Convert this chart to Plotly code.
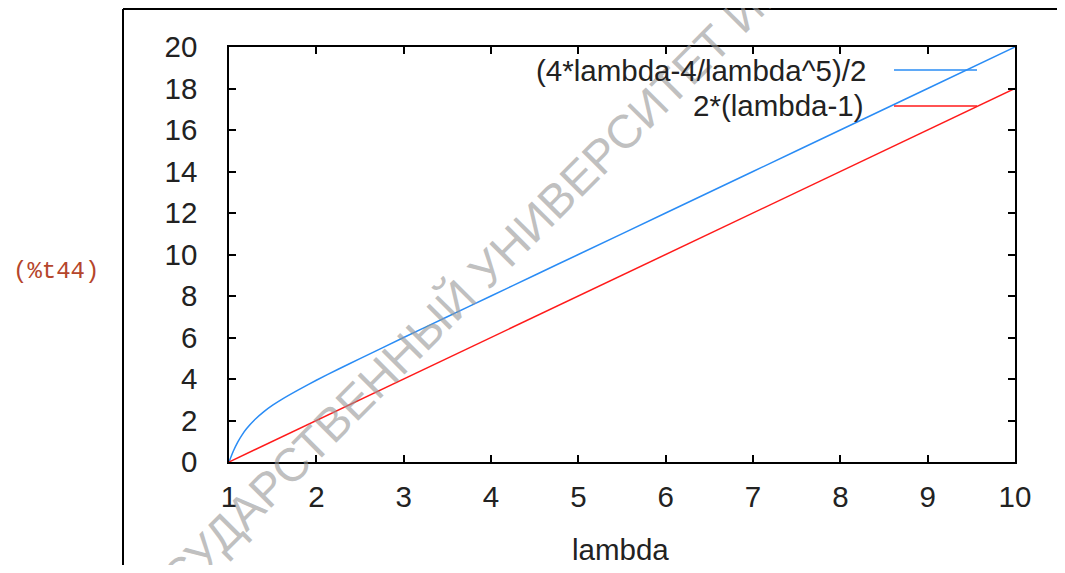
import plotly.graph_objects as go

# ---- data ----
lam_blue = [1.0, 1.05, 1.1, 1.15, 1.2, 1.3, 1.4, 1.5, 1.6, 1.8, 2.0, 2.25, 2.5,
            3.0, 3.5, 4.0, 4.5, 5.0, 6.0, 7.0, 8.0, 9.0, 10.0]
val_blue = [0.0, 0.53, 0.96, 1.31, 1.6, 2.06, 2.43, 2.74, 3.01, 3.49, 3.94, 4.47, 4.98,
            6.0, 7.0, 8.0, 9.0, 10.0, 12.0, 14.0, 16.0, 18.0, 20.0]
lam_red = [1.0, 2.0, 3.0, 4.0, 5.0, 6.0, 7.0, 8.0, 9.0, 10.0]
val_red = [0.0, 2.0, 4.0, 6.0, 8.0, 10.0, 12.0, 14.0, 16.0, 18.0]

name_blue = "(4*lambda-4/lambda^5)/2"
name_red = "2*(lambda-1)"
x_ticks = [1, 2, 3, 4, 5, 6, 7, 8, 9, 10]
y_ticks = [0, 2, 4, 6, 8, 10, 12, 14, 16, 18, 20]
x_title = "lambda"
out_label = "(%t44)"
watermark = "ГОСУДАРСТВЕННЫЙ УНИВЕРСИТЕТ ИМЕНИ"

BLUE = "#2a8cf5"
RED = "#ff1a1a"
FONT = "Liberation Sans, Arial, sans-serif"
FS = 29.5

OFF = 8                      # page body margin
W, H = 1065 - 2 * OFF, 573 - 2 * OFF
L, R, T, B = 229, 1015, 47, 462   # plot area in screen pixels


def px(sx):
    return (sx - L) / (R - L)


def py(sy):
    return (B - sy) / (B - T)


fig = go.Figure()
fig.add_trace(go.Scatter(x=lam_blue, y=val_blue, mode="lines", name=name_blue,
                         line=dict(color=BLUE, width=1.5, shape="spline", smoothing=0.6)))
fig.add_trace(go.Scatter(x=lam_red, y=val_red, mode="lines", name=name_red,
                         line=dict(color=RED, width=1.5)))

axis_common = dict(showgrid=False, zeroline=False, showline=True, linecolor="black",
                   linewidth=1.5, ticks="inside", ticklen=7, tickwidth=1.5,
                   tickcolor="black", mirror="allticks",
                   tickfont=dict(family=FONT, size=FS, color="#222"))
fig.update_xaxes(range=[1, 10], tickvals=x_ticks, ticklabelstandoff=8, **axis_common)
fig.update_yaxes(range=[0, 20], tickvals=y_ticks, ticklabelstandoff=24, **axis_common)

shapes = [
    # outer frame (left and top borders)
    dict(type="line", xref="paper", yref="paper", x0=px(123), x1=px(123), y0=py(9), y1=py(600),
         line=dict(color="black", width=2)),
    dict(type="line", xref="paper", yref="paper", x0=px(123), x1=px(1070), y0=py(9), y1=py(9),
         line=dict(color="black", width=2)),
    # legend samples
    dict(type="line", xref="paper", yref="paper", x0=px(894), x1=px(977), y0=py(70), y1=py(70),
         line=dict(color=BLUE, width=1.5)),
    dict(type="line", xref="paper", yref="paper", x0=px(894), x1=px(977), y0=py(106), y1=py(106),
         line=dict(color=RED, width=1.5)),
]

annotations = [
    dict(text=watermark, xref="paper", yref="paper", x=px(490), y=py(265), xanchor="center",
         yanchor="middle", showarrow=False, textangle=-45,
         font=dict(family="Liberation Sans Narrow, Arial Narrow, Liberation Sans, sans-serif",
                   size=47, color="rgba(150,150,150,0.6)")),
    dict(text=name_blue, xref="paper", yref="paper", x=px(868), y=py(70), xanchor="right",
         yanchor="middle", showarrow=False, font=dict(family=FONT, size=FS, color="#222")),
    dict(text=name_red, xref="paper", yref="paper", x=px(866), y=py(106), xanchor="right",
         yanchor="middle", showarrow=False, font=dict(family=FONT, size=FS, color="#222")),
    dict(text=x_title, xref="paper", yref="paper", x=px(620), y=py(549), xanchor="center",
         yanchor="middle", showarrow=False, font=dict(family=FONT, size=FS, color="#222")),
    dict(text=out_label, xref="paper", yref="paper", x=px(56), y=py(271), xanchor="center",
         yanchor="middle", showarrow=False,
         font=dict(family="Liberation Mono, Courier New, monospace", size=24, color="#b5452b")),
]

fig.update_layout(
    width=W, height=H,
    margin=dict(l=L - OFF, r=W - (R - OFF), t=T - OFF, b=H - (B - OFF)),
    paper_bgcolor="white", plot_bgcolor="white",
    showlegend=False,
    shapes=shapes, annotations=annotations,
)

fig.write_html("out.html")
